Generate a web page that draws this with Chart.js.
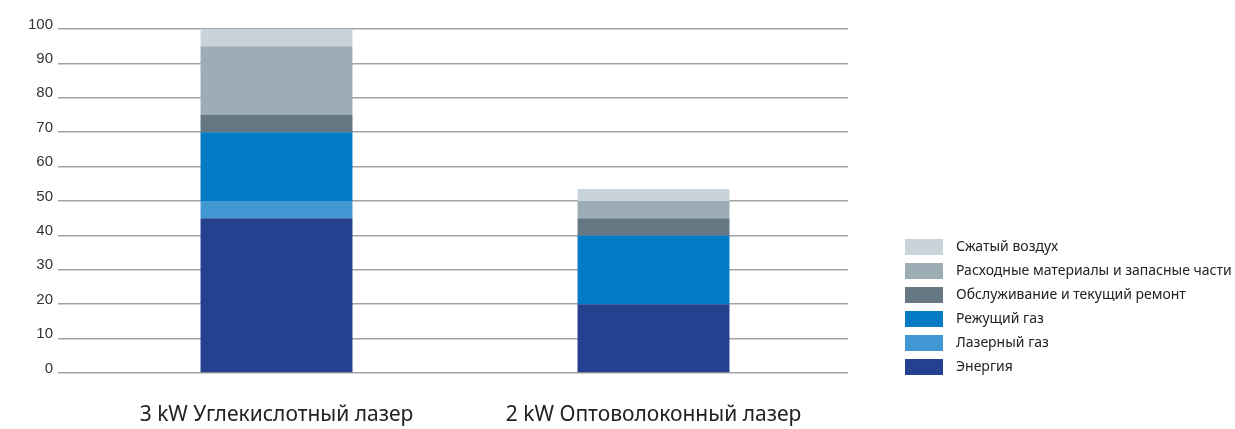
<!DOCTYPE html>
<html>
<head>
<meta charset="utf-8">
<script src="https://cdn.jsdelivr.net/npm/chart.js@4"></script>
<style>
    html, body { margin: 0; padding: 0; background: #fff; }
    #wrap { width: 1235px; height: 429px; }
</style>
</head>
<body>
<div id="wrap"><canvas id="cost_chart" width="1235" height="429"></canvas></div>
<script>
var categories = ["3 kW Углекислотный лазер", "2 kW Оптоволоконный лазер"];
var seriesNames = [
    "Энергия",
    "Лазерный газ",
    "Режущий газ",
    "Обслуживание и текущий ремонт",
    "Расходные материалы и запасные части",
    "Сжатый воздух",
];
var energy = [45, 20];
var laserGas = [5, 0];
var cuttingGas = [20, 20];
var maintenance = [5, 5];
var consumables = [20, 5];
var compressedAir = [5, 3.5];
var yTicks = [0, 10, 20, 30, 40, 50, 60, 70, 80, 90, 100];

var colors = ["#25408f", "#4298d3", "#037cc5", "#657782", "#9cadb6", "#c8d4da"];
var values = [energy, laserGas, cuttingGas, maintenance, consumables, compressedAir];

var datasets = [];
for (var i = 0; i < seriesNames.length; i++) {
    datasets.push({
        label: seriesNames[i],
        data: values[i],
        backgroundColor: colors[i],
        borderWidth: 0,
        barPercentage: 0.403,
        categoryPercentage: 1,
    });
}

// legend drawn on the right, last series on top
var sideLegend = {
    id: "sideLegend",
    afterDraw: function (chart) {
        var c = chart.ctx;
        var sets = chart.data.datasets;
        c.save();
        c.font = "14px 'Noto Sans'";
        c.textBaseline = "middle";
        for (var k = 0; k < sets.length; k++) {
            var ds = sets[sets.length - 1 - k];
            var y = 247 + k * 24;
            c.fillStyle = ds.backgroundColor;
            c.fillRect(905, y - 8, 38, 16);
            c.fillStyle = "#222";
            c.fillText(ds.label, 956, y);
        }
        c.restore();
    },
};

function fixedTicks(scale) {
    scale.ticks = yTicks.map(function (v) { return { value: v }; });
}

var ctx = document.getElementById("cost_chart").getContext("2d");
var costChart = new Chart(ctx, {
    type: "bar",
    data: {
        labels: categories,
        datasets: datasets,
    },
    plugins: [sideLegend],
    options: {
        responsive: false,
        animation: false,
        layout: {
            padding: { top: 29, right: 387, bottom: 0, left: 0 },
        },
        plugins: {
            legend: { display: false },
            tooltip: { enabled: false },
        },
        scales: {
            x: {
                stacked: true,
                afterFit: function (scale) {
                    scale.height = 56;
                },
                grid: { display: false },
                border: { display: false },
                ticks: {
                    color: "#222",
                    padding: 21,
                    font: { family: "'Noto Sans'", size: 21 },
                },
            },
            y: {
                stacked: true,
                min: 0,
                max: 100,
                afterFit: function (scale) {
                    scale.width = 88;
                },
                afterBuildTicks: fixedTicks,
                grid: {
                    color: "#a3a3a3",
                    lineWidth: 1.5,
                    drawTicks: true,
                    tickLength: 30,
                },
                border: { display: false },
                ticks: {
                    color: "#333",
                    padding: 5,
                    labelOffset: -4.5,
                    font: { family: "'Liberation Sans'", size: 15 },
                },
            },
            y2: {
                position: "right",
                min: 0,
                max: 100,
                afterFit: function (scale) {
                    scale.width = 6;
                },
                afterBuildTicks: fixedTicks,
                grid: {
                    color: "#a3a3a3",
                    lineWidth: 1.5,
                    drawOnChartArea: false,
                    drawTicks: true,
                    tickLength: 6,
                },
                border: { display: false },
                ticks: { display: false },
            },
        },
    },
});
</script>
</body>
</html>
